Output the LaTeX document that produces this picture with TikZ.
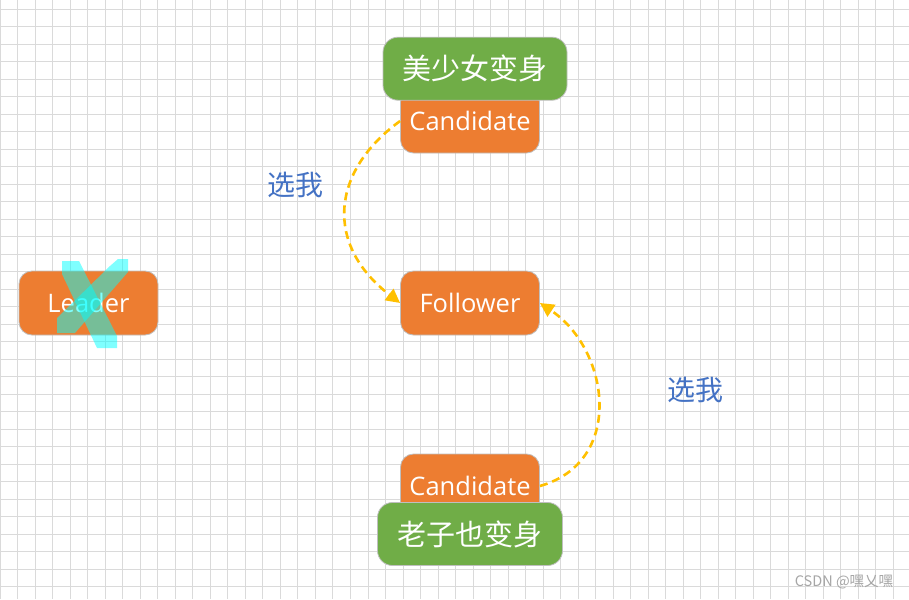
\documentclass[tikz,border=0pt]{standalone}
\usepackage{fontspec}
\setmainfont{Open Sans}
\newfontfamily\cjk{Noto Sans CJK SC}
\usetikzlibrary{arrows.meta}
\definecolor{gridc}{HTML}{DADADA}
\definecolor{orangec}{HTML}{ED7D31}
\definecolor{greenc}{HTML}{70AD47}
\definecolor{bordc}{HTML}{BFBFBF}
\definecolor{arrowc}{HTML}{FFC000}
\definecolor{bluec}{HTML}{4472C4}
\definecolor{markc}{HTML}{00FFFF}
\definecolor{wmc}{HTML}{A6A6A6}
\tikzset{
  orangebox/.style={rectangle, rounded corners=13pt, draw=bordc, line width=0.8pt, fill=orangec,
    minimum width=139pt, minimum height=64pt, inner sep=0pt, text=white,
    font=\fontsize{25.5}{30}\selectfont},
  greenbox/.style={rectangle, rounded corners=15pt, draw=bordc, line width=0.8pt, fill=greenc,
    minimum width=184pt, minimum height=63pt, inner sep=0pt, text=white,
    font=\cjk\fontsize{29}{33}\selectfont},
  pickme/.style={text=bluec, font=\cjk\fontsize{28}{32}\selectfont, inner sep=0pt},
  voteline/.style={arrowc, line width=2.6pt, dash pattern=on 8pt off 5pt,
    -{Triangle[length=14pt,width=14pt]}},
  crossmark/.style={fill=markc, fill opacity=0.5},
}
\begin{document}
\begin{tikzpicture}[x=1pt,y=-1pt]
\useasboundingbox (0,0) rectangle (909,599);
\fill[white] (0,0) rectangle (909,599);
\foreach \i in {0,...,51} \draw[gridc,line width=1pt] ({0.3+17.51*\i},0) -- ({0.3+17.51*\i},599);
\foreach \j in {0,...,33} \draw[gridc,line width=1pt] (0,{9.3+17.5*\j}) -- (909,{9.3+17.5*\j});

\node[orangebox] (leader) at (88.5,303) {Leader};
\node[orangebox] (ctop) at (470,121) {Candidate};
\node[greenbox] (gtop) at (475,68.7) {美少女变身};
\node[orangebox] (follower) at (470,303) {Follower};
\node[orangebox] (cbot) at (470,486) {Candidate};
\node[greenbox, minimum width=185pt] (gbot) at (470,534) {老子也变身};

\fill[crossmark] (62,261) -- (79,261) -- (117,336) -- (117,348) -- (97,348) -- (62,274) -- cycle;
\fill[crossmark] (57,318) -- (110,266) -- (118,259) -- (128,259) -- (128,272) -- (75,333) -- (57,333) -- cycle;

\draw[voteline] (ctop.west) .. controls (330,172) and (325,245) .. (follower.west);
\draw[voteline] (cbot.east) .. controls (625,462) and (610,350) .. (follower.east);

\node[pickme] (pick1) at (295,185) {选我};
\node[pickme] (pick2) at (695,390) {选我};

\node[text=wmc, font=\cjk\fontsize{14.5}{16}\selectfont, inner sep=0pt] (wm) at (844,582) {CSDN @嘿乂嘿};
\end{tikzpicture}
\end{document}
